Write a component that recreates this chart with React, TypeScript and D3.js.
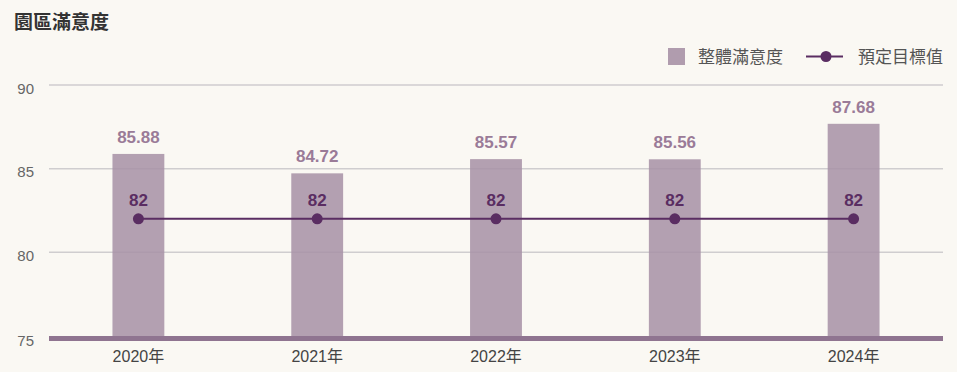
import React from "react";
import * as d3 from "d3";

const categories = ["2020年", "2021年", "2022年", "2023年", "2024年"];
const satisfaction = [85.88, 84.72, 85.57, 85.56, 87.68];
const target = [82, 82, 82, 82, 82];
const yTicks = [75, 80, 85, 90];

const W = 957;
const H = 372;
const m = { left: 49, right: 14, top: 85, bottom: 36 };

export default function App() {
  const x = d3
    .scaleBand<string>()
    .domain(categories)
    .range([m.left, W - m.right])
    .paddingInner(0.71)
    .paddingOuter(0.355);
  const y = d3.scaleLinear().domain([75, 90]).range([H - m.bottom, m.top]);
  const cx = (c: string) => (x(c) ?? 0) + x.bandwidth() / 2;
  const line = d3
    .line<number>()
    .x((_, i) => cx(categories[i]))
    .y((d) => y(d));
  const font = "'Liberation Sans', 'Noto Sans CJK TC', sans-serif";

  return (
    <svg
      width={W}
      height={H}
      style={{ position: "absolute", left: 0, top: 0, display: "block" }}
    >
      <rect x={0} y={0} width={W} height={H} fill="#faf8f3" />
      <text x={14} y={29} fontFamily={font} fontSize={19} fontWeight={700} fill="#333">
        園區滿意度
      </text>
      {/* legend */}
      <rect x={668} y={48} width={17} height={17} fill="#b09cae" />
      <text x={698} y={62.5} fontFamily={font} fontSize={17} fill="#555">
        整體滿意度
      </text>
      <line x1={806} x2={843} y1={56.5} y2={56.5} stroke="#5a2d62" strokeWidth={2} />
      <circle cx={826} cy={56.5} r={5.5} fill="#5a2d62" />
      <text x={858} y={62.5} fontFamily={font} fontSize={17} fill="#555">
        預定目標值
      </text>
      {/* grid */}
      {yTicks
        .filter((t) => t !== 75)
        .map((t) => (
          <line
            key={t}
            x1={m.left}
            x2={W - m.right}
            y1={y(t)}
            y2={y(t)}
            stroke="#cfcdcf"
            strokeWidth={1.5}
          />
        ))}
      {yTicks.map((t) => (
        <text
          key={"l" + t}
          x={34}
          y={y(t) + (t === 75 ? 10 : 8.5)}
          textAnchor="end"
          fontFamily={font}
          fontSize={15}
          fill="#666"
        >
          {t}
        </text>
      ))}
      {/* bars */}
      {categories.map((c, i) => (
        <rect
          key={c}
          x={x(c)}
          y={y(satisfaction[i])}
          width={x.bandwidth()}
          height={y(75) - y(satisfaction[i])}
          fill="#a893a7"
          fillOpacity={0.88}
        />
      ))}
      {categories.map((c, i) => (
        <text
          key={"v" + c}
          x={cx(c)}
          y={y(satisfaction[i]) - 11}
          textAnchor="middle"
          fontFamily={font}
          fontSize={17}
          fontWeight={700}
          fill="#9a7b98"
        >
          {satisfaction[i].toFixed(2)}
        </text>
      ))}
      {/* axis */}
      <line
        x1={m.left}
        x2={W - m.right}
        y1={y(75) + 2.5}
        y2={y(75) + 2.5}
        stroke="#8f7490"
        strokeWidth={5}
      />
      {categories.map((c) => (
        <text
          key={"x" + c}
          x={cx(c)}
          y={362}
          textAnchor="middle"
          fontFamily={font}
          fontSize={16}
          fill="#444"
        >
          {c}
        </text>
      ))}
      {/* target line */}
      <path d={line(target) ?? ""} fill="none" stroke="#5a2d62" strokeWidth={2} />
      {categories.map((c, i) => (
        <g key={"t" + c}>
          <circle cx={cx(c)} cy={y(target[i])} r={5.5} fill="#5a2d62" />
          <text
            x={cx(c)}
            y={y(target[i]) - 13}
            textAnchor="middle"
            fontFamily={font}
            fontSize={17}
            fontWeight={700}
            fill="#5a2d62"
          >
            {target[i]}
          </text>
        </g>
      ))}
    </svg>
  );
}
